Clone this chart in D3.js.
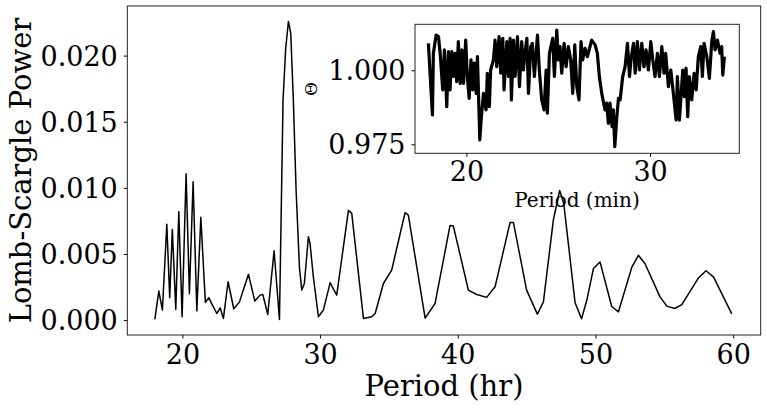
<!DOCTYPE html>
<html><head><meta charset="utf-8">
<script src="https://cdn.jsdelivr.net/npm/d3@7"></script>
<style>
body{margin:0;background:#fff;}
svg text{font-family:"DejaVu Serif",serif;fill:#000;}
</style></head>
<body><svg id="c" width="767" height="408"></svg>
<script>
// Main periodogram
const period = [18.0,18.29,18.55,18.87,19.08,19.27,19.52,19.74,19.98,20.27,20.51,20.78,21.05,21.34,21.67,21.92,22.2,22.5,22.74,22.98,23.32,23.73,24.14,24.8,25.26,25.64,25.84,26.2,26.66,27.05,27.31,27.5,27.7,27.87,28.06,28.26,28.5,28.67,28.86,29.15,29.27,29.51,29.88,30.24,30.73,31.21,32.06,32.3,33.15,33.75,34.0,34.6,35.2,36.17,36.41,37.63,38.35,39.44,39.68,40.77,41.38,42.1,42.71,43.8,44.04,45.0,45.78,46.22,46.94,47.4,47.7,48.52,48.99,49.37,49.85,50.33,51.18,51.67,52.64,53.12,53.6,54.69,55.18,55.75,56.27,57.47,58.03,58.58,59.9];
const power = [0.00005,0.0022,0.00076,0.00724,0.0017,0.00686,0.00081,0.0082,0.00025,0.01107,0.0020,0.01046,0.0007,0.00777,0.00134,0.0017,0.0011,0.0005,0.00093,0.00013,0.0029,0.00086,0.00136,0.00346,0.00144,0.00189,0.00194,0.00043,0.00524,0.00005,0.0166,0.0205,0.02258,0.02169,0.0166,0.0098,0.0040,0.00227,0.00277,0.0063,0.0058,0.00328,0.00025,0.00076,0.00282,0.00189,0.0083,0.00807,0.00013,0.00025,0.0005,0.00277,0.00378,0.00812,0.00794,0.00015,0.00126,0.00716,0.00711,0.00227,0.00194,0.00172,0.00252,0.00739,0.00739,0.00227,0.00045,0.00138,0.00756,0.0098,0.0088,0.00132,0.0001,0.0015,0.0039,0.0044,0.00103,0.00063,0.004,0.0049,0.00426,0.00176,0.00106,0.00088,0.00117,0.00318,0.00373,0.00325,0.00047];
const yTicks = [0.000,0.005,0.010,0.015,0.020];
const xTicks = [20,30,40,50,60];
// Inset light curve
const tMin = [17.93,18.02,18.15,18.20,18.35,18.48,18.57,18.71,18.80,18.93,19.02,19.11,19.20,19.29,19.38,19.47,19.56,19.66,19.75,19.84,19.96,20.05,20.15,20.25,20.34,20.42,20.53,20.60,20.73,20.80,20.93,21.07,21.14,21.25,21.32,21.47,21.56,21.65,21.78,21.87,21.98,22.05,22.20,22.29,22.38,22.45,22.56,22.65,22.78,22.89,23.01,23.10,23.19,23.29,23.38,23.50,23.59,23.70,23.87,23.97,24.10,24.23,24.34,24.41,24.52,24.70,24.79,24.92,25.01,25.10,25.19,25.32,25.43,25.55,25.68,25.79,25.90,26.01,26.13,26.24,26.33,26.46,26.59,26.82,27.01,27.13,27.24,27.37,27.55,27.64,27.73,27.82,27.93,28.00,28.08,28.19,28.28,28.37,28.51,28.64,28.77,28.88,28.97,29.10,29.19,29.31,29.42,29.55,29.67,29.78,29.91,30.04,30.15,30.27,30.40,30.51,30.64,30.76,30.85,31.00,31.13,31.27,31.42,31.49,31.60,31.78,31.87,31.96,32.05,32.14,32.27,32.40,32.51,32.63,32.76,32.85,32.94,33.09,33.23,33.36,33.45,33.54,33.67,33.81,33.90,33.96,34.05];
const flux = [1.0091,0.9990,0.9849,1.0057,1.0119,1.0114,1.0057,0.9934,1.0069,0.9877,1.0063,0.9934,1.0063,0.9979,1.0057,0.9962,1.0097,0.9956,1.0069,0.9956,1.0102,0.9979,0.9905,1.0035,0.9934,1.0024,0.9922,1.0046,0.9765,0.9832,0.9922,0.9866,0.9990,0.9877,1.0001,1.0035,1.0102,1.0012,1.0114,0.9990,1.0108,0.9934,1.0097,0.9979,1.0108,0.9900,1.0102,0.9979,1.0114,0.9945,1.0097,1.0001,1.0057,1.0108,0.9922,1.0080,1.0091,0.9979,1.0119,1.0001,0.9900,0.9866,1.0001,0.9855,1.0057,1.0108,0.9979,1.0136,1.0035,1.0080,0.9990,1.0091,1.0012,1.0080,1.0035,0.9922,1.0086,0.9945,0.9900,1.0097,1.0035,1.0074,1.0046,1.0102,1.0086,1.0057,0.9979,0.9922,0.9866,0.9889,0.9821,0.9889,0.9810,0.9866,0.9742,0.9843,0.9905,0.9900,0.9979,1.0012,1.0091,0.9979,1.0041,1.0091,0.9990,1.0097,1.0001,1.0091,1.0012,1.0069,1.0001,1.0097,1.0035,0.9979,1.0057,0.9979,1.0080,0.9990,1.0057,0.9945,1.0001,0.9922,0.9832,0.9979,0.9832,1.0001,0.9911,1.0007,0.9843,0.9979,0.9900,0.9990,0.9934,1.0046,1.0080,0.9979,1.0091,1.0046,0.9973,1.0097,1.0131,1.0069,1.0102,1.0057,1.0080,0.9984,1.0046];
const insetYTicks = [0.975,1.000];
const insetXTicks = [20,30];

const svg = d3.select("#c");
// main axes
const L=127.3,R=760.7,T=6,B=335;
const x = d3.scaleLinear().domain([16,62]).range([L,R]);
const y = d3.scaleLinear().domain([-0.001125,0.02375]).range([B,T]);

svg.append("path").datum(period.map((p,i)=>[p,power[i]]))
  .attr("fill","none").attr("stroke","#000").attr("stroke-width",1.5).attr("stroke-linejoin","round")
  .attr("d",d3.line().x(d=>x(d[0])).y(d=>y(d[1])));

const gx = svg.append("g").attr("transform",`translate(0,${B})`)
  .call(d3.axisBottom(x).tickValues(xTicks).tickFormat(d3.format("d")).tickSize(3.5).tickPadding(6).tickSizeOuter(0));
gx.selectAll("text").style("font-size","27px").attr("font-family","DejaVu Serif");
const gy = svg.append("g").attr("transform",`translate(${L},0)`)
  .call(d3.axisLeft(y).tickValues(yTicks).tickFormat(d3.format(".3f")).tickSize(3.5).tickPadding(6).tickSizeOuter(0));
gy.selectAll("text").style("font-size","27px").attr("font-family","DejaVu Serif").attr("dy","0.35em");
svg.selectAll(".domain").remove();
svg.append("rect").attr("x",L).attr("y",T).attr("width",R-L).attr("height",B-T)
  .attr("fill","none").attr("stroke","#222").attr("stroke-width",1);

svg.append("text").attr("x",(L+R)/2).attr("y",396).attr("text-anchor","middle")
  .style("font-size","29px").text("Period (hr)");
svg.append("text").attr("transform",`translate(31,${(T+B)/2}) rotate(-90)`).attr("text-anchor","middle")
  .style("font-size","29px").text("Lomb-Scargle Power");

// inset
const iL=415,iR=739.3,iT=24.3,iB=153.3;
const xi = d3.scaleLinear().domain([17.2,34.86]).range([iL,iR]);
const yi = d3.scaleLinear().domain([0.97196,1.01554]).range([iB,iT]);
svg.append("rect").attr("x",iL).attr("y",iT).attr("width",iR-iL).attr("height",iB-iT).attr("fill","#fff");
svg.append("path").datum(tMin.map((t,i)=>[t,flux[i]]))
  .attr("fill","none").attr("stroke","#000").attr("stroke-width",3.2).attr("stroke-linejoin","round")
  .attr("d",d3.line().x(d=>xi(d[0])).y(d=>yi(d[1])));
const gxi = svg.append("g").attr("transform",`translate(0,${iB})`)
  .call(d3.axisBottom(xi).tickValues(insetXTicks).tickFormat(d3.format("d")).tickSize(3.5).tickPadding(5).tickSizeOuter(0));
gxi.selectAll("text").style("font-size","27px").attr("font-family","DejaVu Serif");
const gyi = svg.append("g").attr("transform",`translate(${iL},0)`)
  .call(d3.axisLeft(yi).tickValues(insetYTicks).tickFormat(d3.format(".3f")).tickSize(3.5).tickPadding(6).tickSizeOuter(0));
gyi.selectAll("text").style("font-size","27px").attr("font-family","DejaVu Serif").attr("dy","0.35em");
svg.selectAll(".domain").remove();
svg.append("rect").attr("x",iL).attr("y",iT).attr("width",iR-iL).attr("height",iB-iT)
  .attr("fill","none").attr("stroke","#222").attr("stroke-width",1);
svg.append("text").attr("x",577).attr("y",207).attr("text-anchor","middle")
  .style("font-size","20px").text("Period (min)");
svg.append("text").attr("transform","translate(317,89) rotate(-90)").attr("text-anchor","middle")
  .style("font-size","17px").text("Θ");
</script></body></html>
